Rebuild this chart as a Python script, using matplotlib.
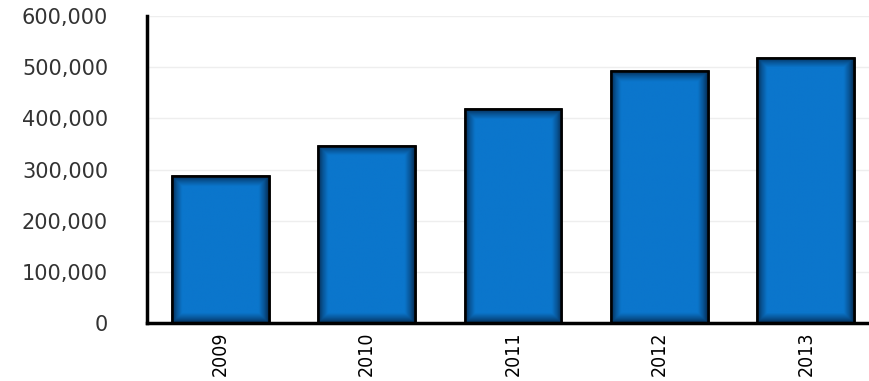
import numpy as np
import matplotlib.pyplot as plt
from matplotlib.ticker import FuncFormatter

years = ['2009', '2010', '2011', '2012', '2013']
values = [287000, 346000, 418000, 492000, 518000]

fig = plt.figure(figsize=(8.7, 3.81), dpi=100)
ax = fig.add_axes([147 / 870, 1 - 323 / 381, 732 / 870, 307 / 381])

x = np.arange(len(years))
w = 0.66
bars = ax.bar(x, values, width=w, color='#0a74c8', edgecolor='black', linewidth=1.8, zorder=3)

# dark shading towards the bar edges
light = np.array([0x0b, 0x76, 0xcc]) / 255
dark = np.array([0x04, 0x26, 0x4a]) / 255
px_x = 97 / w            # pixels per x unit
px_y = 307 / 600000      # pixels per y unit
for b, v in zip(bars, values):
    x0 = b.get_x()
    nx, ny = 120, 240
    xs = np.linspace(0, w, nx) * px_x
    ys = np.linspace(0, v, ny) * px_y
    dx = np.minimum(xs, xs[-1] - xs)
    dy = np.minimum(ys, ys[-1] - ys)
    d = np.minimum(dx[None, :], dy[:, None])
    s = np.clip(d / 10, 0, 1) ** 0.7
    img = dark + (light - dark) * s[..., None]
    im = ax.imshow(img, extent=[x0, x0 + w, 0, v], origin='lower', aspect='auto', zorder=3.5,
                   interpolation='bilinear')
    im.set_clip_path(b)
    ax.bar(b.get_x() + w / 2, v, width=w, color='none', edgecolor='black', linewidth=1.8, zorder=4)

ax.set_xlim(-0.5, 4.5)
ax.set_ylim(0, 600000)

ax.set_yticks(np.arange(0, 600001, 100000))
ax.yaxis.set_major_formatter(FuncFormatter(lambda v, p: f'{int(v):,}'))
ax.grid(axis='y', color='#eeeeee', linewidth=1, zorder=0)
ax.set_axisbelow(True)

ax.set_xticks(x)
ax.set_xticklabels(years, rotation=90, fontsize=14, fontstretch='condensed')
ax.tick_params(axis='x', length=0, pad=6)
ax.tick_params(axis='y', length=0, pad=28, labelsize=15, labelcolor='#333333')

for s in ['top', 'right']:
    ax.spines[s].set_visible(False)
ax.spines['left'].set_linewidth(2.5)
ax.spines['bottom'].set_linewidth(2.5)
ax.spines['left'].set_zorder(5)
ax.spines['bottom'].set_zorder(5)

fig.savefig('out.png', dpi=100)
